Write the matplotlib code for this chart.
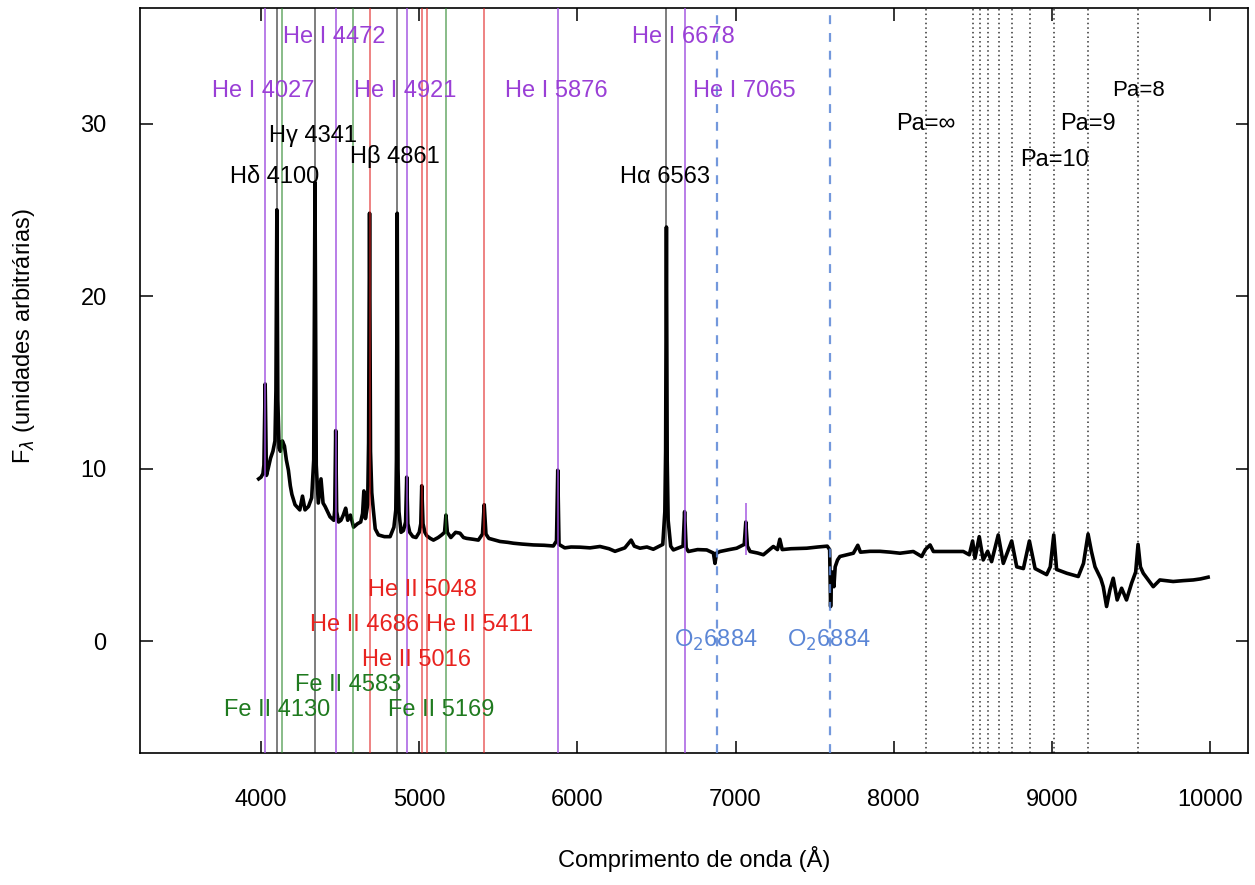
import matplotlib
matplotlib.use("Agg")
import matplotlib.pyplot as plt
import numpy as np

# espectro (comprimento de onda em A, fluxo arbitrario)
wave = [3985, 4000, 4012, 4018, 4026, 4034, 4045, 4060, 4075, 4088, 4094, 4100, 4106,
        4114, 4122, 4135, 4148, 4160, 4173, 4185, 4195, 4215, 4245, 4262, 4278, 4300,
        4320, 4333, 4341, 4349, 4362, 4379, 4392, 4405, 4436, 4460, 4466, 4472, 4478,
        4490, 4505, 4520, 4535, 4548, 4565, 4585, 4610, 4630, 4642, 4650, 4660, 4674,
        4680, 4686, 4692, 4700, 4710, 4722, 4742, 4780, 4816, 4840, 4852, 4856, 4861,
        4866, 4872, 4885, 4900, 4914, 4921, 4928, 4940, 4960, 4980, 5000, 5010, 5016,
        5024, 5036, 5048, 5070, 5090, 5120, 5142, 5160, 5169, 5178, 5200, 5230, 5258,
        5280, 5300, 5340, 5374, 5400, 5411, 5422, 5440, 5511, 5560, 5595, 5650, 5722,
        5790, 5848, 5868, 5876, 5884, 5920, 5960, 6017, 6080, 6143, 6200, 6238, 6300,
        6340, 6360, 6396, 6440, 6480, 6540, 6553, 6558, 6563, 6568, 6574, 6590, 6607,
        6668, 6678, 6688, 6702, 6760, 6818, 6860, 6870, 6880, 6902, 6960, 7007, 7055,
        7065, 7075, 7092, 7140, 7176, 7239, 7265, 7280, 7295, 7350, 7450, 7520, 7580,
        7595, 7601, 7606, 7614, 7622, 7630, 7645, 7660, 7745, 7773, 7790, 7850, 7913,
        7980, 8040, 8124, 8177, 8200, 8230, 8251, 8335, 8440, 8478, 8499, 8514, 8541,
        8566, 8594, 8619, 8661, 8693, 8746, 8778, 8820, 8858, 8894, 8967, 8990, 9012,
        9030, 9094, 9167, 9200, 9229, 9250, 9273, 9310, 9325, 9346, 9367, 9388, 9413,
        9441, 9472, 9504, 9530, 9545, 9560, 9578, 9641, 9683, 9767, 9830, 9894, 9940,
        9988]
flux = [9.4, 9.5, 9.7, 10.2, 14.9, 9.6, 10.0, 10.6, 11.0, 11.6, 14.5, 25.0, 14.0,
        11.2, 11.0, 11.6, 11.3, 10.5, 9.9, 9.0, 8.5, 7.9, 7.6, 8.4, 7.6, 7.8,
        8.3, 10.5, 26.6, 10.2, 8.0, 9.4, 8.0, 7.8, 7.2, 7.0, 7.6, 12.2, 7.5,
        6.9, 7.0, 7.3, 7.7, 7.0, 7.3, 6.6, 6.8, 6.9, 7.4, 8.7, 7.1, 7.9,
        11.5, 24.8, 11.0, 8.6, 7.6, 6.5, 6.15, 6.05, 6.05, 6.6, 7.6, 10.5, 24.8,
        10.0, 7.5, 6.3, 6.4, 6.9, 9.5, 6.8, 6.3, 6.05, 6.0, 6.3, 6.8, 9.0,
        6.8, 6.3, 6.1, 5.95, 5.85, 6.0, 6.15, 6.3, 7.3, 6.3, 6.0, 6.3, 6.25,
        6.0, 5.95, 5.9, 5.85, 6.2, 7.9, 6.2, 5.95, 5.77, 5.72, 5.67, 5.62, 5.57,
        5.55, 5.51, 5.8, 9.9, 5.6, 5.4, 5.45, 5.44, 5.4, 5.48, 5.35, 5.2, 5.4,
        5.85, 5.5, 5.38, 5.45, 5.32, 5.6, 7.5, 11.0, 24.0, 10.5, 7.0, 5.5, 5.28,
        5.5, 7.5, 5.4, 5.19, 5.3, 5.28, 5.1, 4.5, 5.1, 5.19, 5.3, 5.38, 5.6,
        6.9, 5.5, 5.19, 5.1, 5.0, 5.48, 5.3, 5.9, 5.3, 5.35, 5.38, 5.45, 5.5,
        5.3, 2.0, 3.6, 4.0, 3.15, 4.3, 4.7, 4.9, 5.09, 5.55, 5.15, 5.2, 5.2,
        5.15, 5.09, 5.19, 4.9, 5.3, 5.57, 5.19, 5.19, 5.19, 5.0, 5.8, 4.8, 6.05,
        4.7, 5.2, 4.6, 6.15, 4.5, 5.8, 4.3, 4.2, 5.8, 4.2, 3.85, 4.3, 6.15,
        4.15, 3.93, 3.74, 4.5, 6.2, 5.2, 4.3, 3.6, 3.15, 2.0, 2.96, 3.64, 2.38,
        3.06, 2.38, 3.35, 4.0, 5.6, 4.3, 3.93, 3.15, 3.54, 3.45, 3.5, 3.54, 3.6,
        3.7]

# linhas identificadas
hei_lines = [4027, 4472, 4921, 5876, 6678]
hei_short = 7065
h_lines = [4100, 4341, 4861, 6563]
h_names = ["H\u03b4", "H\u03b3", "H\u03b2", "H\u03b1"]
heii_lines = [4686, 5016, 5048, 5411]
feii_lines = [4130, 4583, 5169]
o2_lines = [6884, 7600]
pa_lines = [8204, 8502, 8545, 8598, 8665, 8750, 8863, 9015, 9229, 9546]
pa_labels = ["Pa=\u221e", "Pa=10", "Pa=9", "Pa=8"]
pa_label_waves = [8204, 9015, 9229, 9546]

c_hei = "#9a3fd6"
c_heii = "#e8231f"
c_feii = "#1f7a1f"
c_o2 = "#5b86d6"

plt.rcParams["font.family"] = ["Liberation Sans", "DejaVu Sans"]

fig = plt.figure(figsize=(12.55, 8.85), dpi=100)
ax = fig.add_axes([0.1116, 0.149, 0.8828, 0.842])

ax.plot(wave, flux, color="black", lw=2.6, zorder=2)

for w in hei_lines:
    ax.axvline(w, color="#a050e0", lw=1.3, alpha=0.8, zorder=3)
ax.vlines(hei_short, 5.0, 8.0, color="#a050e0", lw=1.3, alpha=0.8, zorder=3)
for w in h_lines:
    ax.axvline(w, color="black", lw=1.3, alpha=0.55, zorder=3)
for w in heii_lines:
    ax.axvline(w, color="#e02020", lw=1.3, alpha=0.6, zorder=3)
for w in feii_lines:
    ax.axvline(w, color="#2a862a", lw=1.3, alpha=0.6, zorder=3)
for w in o2_lines:
    ax.axvline(w, color=c_o2, lw=1.6, ls=(0, (4, 4)), alpha=0.85, zorder=3)
for w in pa_lines:
    ax.axvline(w, color="black", lw=1.1, ls=(0, (1, 2)), alpha=0.8, zorder=3)

fs = 17
txt = dict(ha="center", va="center", fontsize=fs)

# He I
hei_y = [31.9, 35.0, 31.9, 31.9, 35.0]
for w, y in zip(hei_lines, hei_y):
    ax.text(w - 10, y, "He I %d" % w, color=c_hei, **txt)
ax.text(hei_short - 10, 31.9, "He I %d" % hei_short, color=c_hei, **txt)

# Balmer
h_y = [26.9, 29.3, 28.1, 26.9]
for w, n, y in zip(h_lines, h_names, h_y):
    ax.text(w - 12, y, "%s %d" % (n, w), color="black", **txt)

# He II
heii_y = [0.93, -1.1, 2.96, 0.93]
for w, y in zip(heii_lines, heii_y):
    ax.text(w - 30, y, "He II %d" % w, color=c_heii, **txt)

# Fe II
feii_y = [-4.0, -2.55, -4.0]
for w, y in zip(feii_lines, feii_y):
    ax.text(w - 30, y, "Fe II %d" % w, color=c_feii, **txt)

# O2
for w in o2_lines:
    ax.text(w - 8, 0.05, "O$_2$6884", color=c_o2, **txt)

# Paschen
pa_y = [29.95, 27.9, 29.95, 31.9]
pa_fs = [fs, fs, fs, fs - 1]
for w, t, y, f in zip(pa_label_waves, pa_labels, pa_y, pa_fs):
    ax.text(w, y, t, color="black", ha="center", va="center", fontsize=f)

ax.set_xlim(3235, 10240)
ax.set_ylim(-6.5, 36.7)
ax.set_xticks([4000, 5000, 6000, 7000, 8000, 9000, 10000])
ax.set_yticks([0, 10, 20, 30])
ax.tick_params(direction="in", length=9, width=1.1, top=True, right=True,
               labelsize=fs)
ax.tick_params(axis="y", pad=24)
ax.tick_params(axis="x", pad=26)
for s in ax.spines.values():
    s.set_linewidth(1.2)

ax.set_xlabel("Comprimento de onda (\u00c5)", fontsize=fs)
ax.set_ylabel("F$_\\lambda$ (unidades arbitr\u00e1rias)", fontsize=fs)
ax.xaxis.set_label_coords(0.5, -0.125)
ax.yaxis.set_label_coords(-0.093, 0.56)

fig.savefig("out.png", dpi=100)
